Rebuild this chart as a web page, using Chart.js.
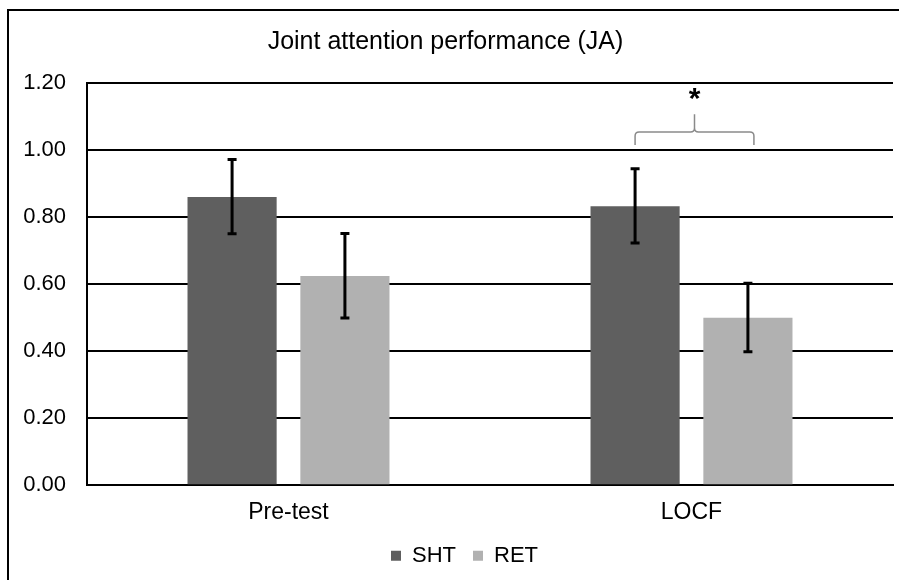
<!DOCTYPE html>
<html>
<head>
<meta charset="utf-8">
<title>Joint attention performance (JA)</title>
<script src="https://cdn.jsdelivr.net/npm/chart.js"></script>
<style>
body { margin: 0; background: white; }
</style>
</head>
<body>
<canvas id="myChart" width="899" height="580"></canvas>
<script>
// data
const labels = ["Pre-test", "LOCF"];
const shtValues = [0.86, 0.832];
const retValues = [0.624, 0.50];
const shtErrUp = [0.112, 0.112];
const shtErrDown = [0.110, 0.109];
const retErrUp = [0.127, 0.103];
const retErrDown = [0.125, 0.102];
const yTicks = [0, 0.2, 0.4, 0.6, 0.8, 1.0, 1.2];

// draws the frame, error bars and the significance bracket
const extras = {
  id: "extras",
  afterLayout(chart) {
    // the original legend sits a bit right of centre, the title a bit left
    chart.legend.left += 14;
    chart.legend.right += 14;
    chart.titleBlock.left -= 5;
    chart.titleBlock.right -= 5;
  },
  afterDatasetsDraw(chart) {
    const ctx = chart.ctx;
    const y = chart.scales.y;
    ctx.save();
    // frame (top and left)
    ctx.strokeStyle = "#000";
    ctx.lineWidth = 2;
    ctx.beginPath();
    ctx.moveTo(8, 580);
    ctx.lineTo(8, 10);
    ctx.lineTo(899, 10);
    ctx.stroke();

    // error bars
    const ups = [shtErrUp, retErrUp];
    const downs = [shtErrDown, retErrDown];
    chart.data.datasets.forEach((ds, i) => {
      const meta = chart.getDatasetMeta(i);
      meta.data.forEach((bar, j) => {
        const v = ds.data[j];
        const top = y.getPixelForValue(v + ups[i][j]);
        const bot = y.getPixelForValue(v - downs[i][j]);
        ctx.strokeStyle = "#000";
        ctx.lineWidth = 3;
        ctx.beginPath();
        ctx.moveTo(bar.x, top);
        ctx.lineTo(bar.x, bot);
        ctx.moveTo(bar.x - 4.5, top);
        ctx.lineTo(bar.x + 4.5, top);
        ctx.moveTo(bar.x - 4.5, bot);
        ctx.lineTo(bar.x + 4.5, bot);
        ctx.stroke();
      });
    });

    // bracket over LOCF
    const x1 = chart.getDatasetMeta(0).data[1].x;
    const x2 = chart.getDatasetMeta(1).data[1].x + 6;
    const xm = (x1 + x2) / 2;
    const yEnd = y.getPixelForValue(1.015);
    const yLine = y.getPixelForValue(1.054);
    const yPeak = y.getPixelForValue(1.107);
    const r = 4;
    ctx.strokeStyle = "#8a8a8a";
    ctx.lineWidth = 1.5;
    ctx.beginPath();
    ctx.moveTo(x1, yEnd);
    ctx.lineTo(x1, yLine + r);
    ctx.quadraticCurveTo(x1, yLine, x1 + r, yLine);
    ctx.lineTo(xm - r, yLine);
    ctx.quadraticCurveTo(xm, yLine, xm, yLine - r);
    ctx.lineTo(xm, yPeak);
    ctx.moveTo(xm, yLine - r);
    ctx.quadraticCurveTo(xm, yLine, xm + r, yLine);
    ctx.lineTo(x2 - r, yLine);
    ctx.quadraticCurveTo(x2, yLine, x2, yLine + r);
    ctx.lineTo(x2, yEnd);
    ctx.stroke();

    ctx.fillStyle = "#000";
    ctx.font = "bold 30px 'Liberation Sans', Arial, sans-serif";
    ctx.textAlign = "center";
    ctx.textBaseline = "middle";
    ctx.fillText("*", xm, y.getPixelForValue(1.149));
    ctx.restore();
  }
};

const font = "'Liberation Sans', Arial, sans-serif";

new Chart("myChart", {
  type: "bar",
  data: {
    labels: labels,
    datasets: [
      { label: "SHT", data: shtValues, backgroundColor: "#5f5f5f" },
      { label: "RET", data: retValues, backgroundColor: "#b1b1b1" }
    ]
  },
  options: {
    responsive: false,
    animation: false,
    layout: { padding: { top: 18, left: 8, right: 6, bottom: 3.3 } },
    datasets: { bar: { categoryPercentage: 0.56, barPercentage: 0.79 } },
    plugins: {
      title: {
        display: true,
        text: "Joint attention performance (JA)",
        color: "#000",
        font: { family: font, size: 25, weight: "normal" },
        padding: { top: 9.5, bottom: 25.5 }
      },
      legend: {
        position: "bottom",
        labels: {
          color: "#000",
          font: { family: font, size: 22 },
          boxWidth: 10,
          boxHeight: 10,
          padding: 17
        }
      },
      tooltip: { enabled: false }
    },
    scales: {
      x: {
        afterFit(scale) { scale.height -= 4; },
        grid: { display: false },
        border: { display: true, color: "#000", width: 2 },
        ticks: { color: "#000", font: { family: font, size: 23 }, padding: 5.4 }
      },
      y: {
        min: 0,
        max: 1.2,
        afterBuildTicks(scale) {
          scale.ticks = yTicks.map(v => ({ value: v }));
        },
        afterFit(scale) { scale.width = 79; },
        grid: { color: "#000", lineWidth: 2, drawTicks: false },
        border: { display: true, color: "#000", width: 2 },
        ticks: {
          color: "#000",
          font: { family: font, size: 22 },
          padding: 21,
          callback: v => v.toFixed(2)
        }
      }
    }
  },
  plugins: [extras]
});
</script>
</body>
</html>
